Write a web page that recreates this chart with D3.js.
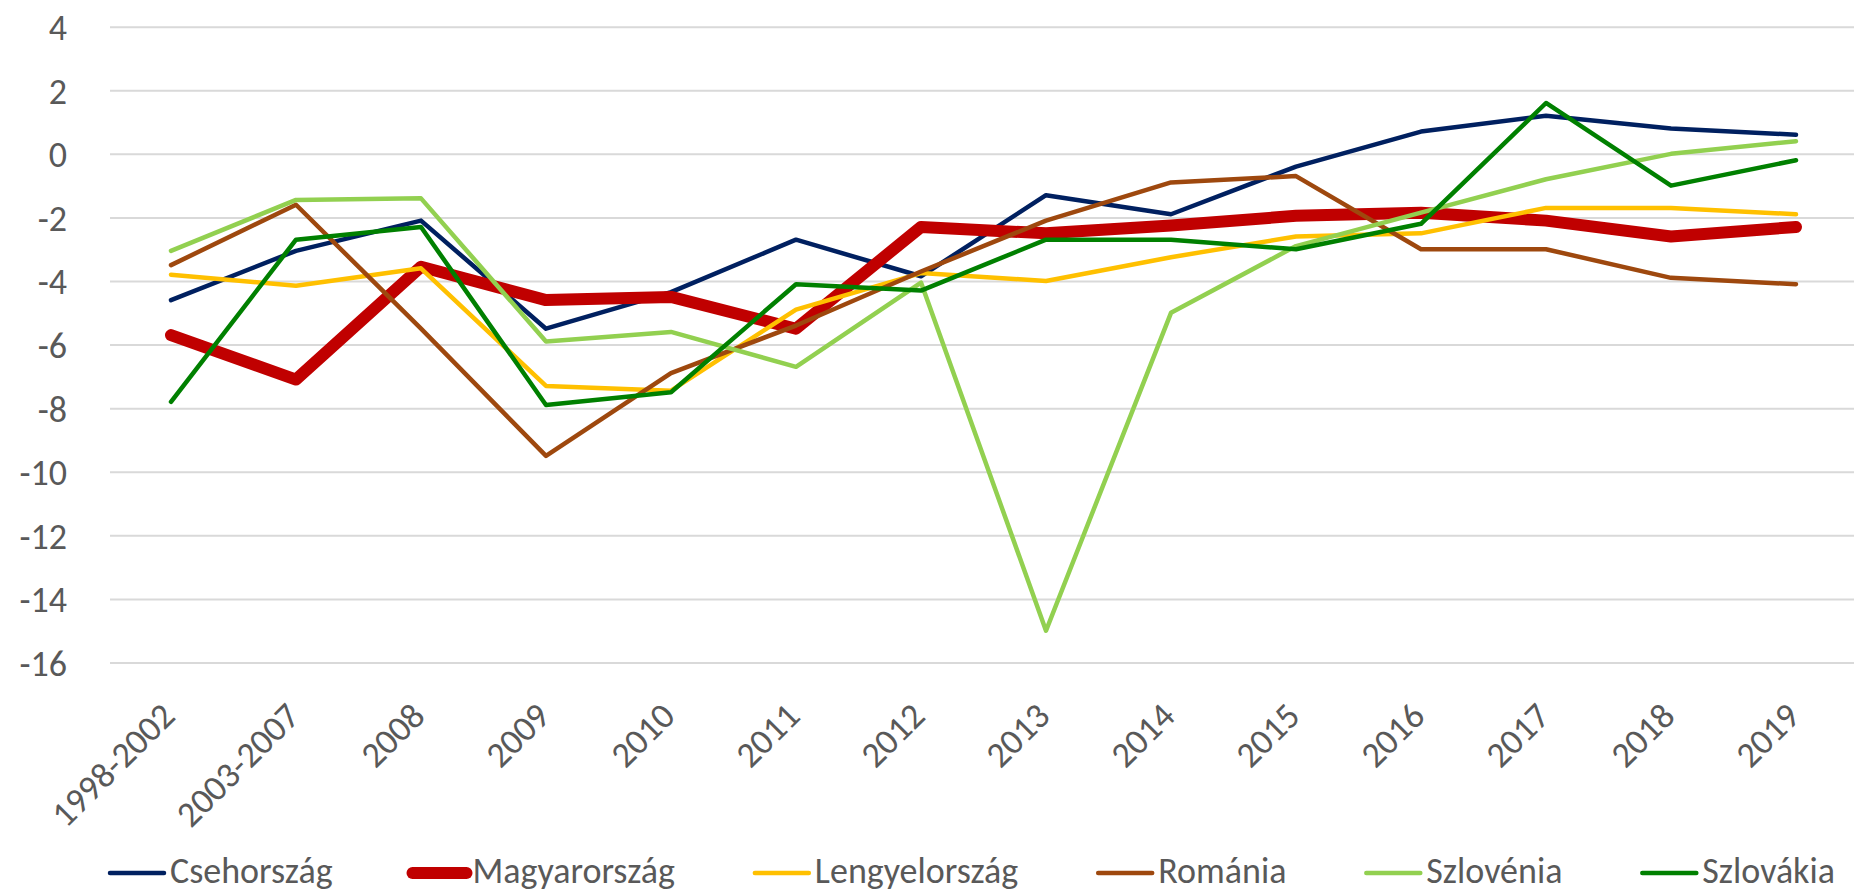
<!DOCTYPE html>
<html>
<head>
<meta charset="utf-8">
<script src="https://cdn.jsdelivr.net/npm/d3@7"></script>
<style>
  body { margin: 0; background: #fff; }
  text { font-family: Calibri, Carlito, Lato, sans-serif; fill: #595959; }
</style>
</head>
<body>
<script>
var categories = ['1998-2002', '2003-2007', '2008', '2009', '2010', '2011', '2012', '2013', '2014', '2015', '2016', '2017', '2018', '2019']
var yTicks = [4, 2, 0, -2, -4, -6, -8, -10, -12, -14, -16]

var names = ['Csehország', 'Magyarország', 'Lengyelország', 'Románia', 'Szlovénia', 'Szlovákia']
var colors = ['#002060', '#c00000', '#ffc000', '#9e480e', '#92d050', '#008000']

var cseh    = [-4.6, -3.05, -2.1, -5.5, -4.35, -2.7, -3.85, -1.3, -1.9, -0.4, 0.7, 1.2, 0.8, 0.6]
var magyar  = [-5.7, -7.1, -3.55, -4.6, -4.5, -5.5, -2.3, -2.5, -2.25, -1.95, -1.85, -2.1, -2.6, -2.3]
var lengyel = [-3.8, -4.15, -3.6, -7.3, -7.45, -4.9, -3.75, -4.0, -3.25, -2.6, -2.5, -1.7, -1.7, -1.9]
var romania = [-3.5, -1.6, -5.5, -9.5, -6.9, -5.4, -3.7, -2.1, -0.9, -0.7, -3.0, -3.0, -3.9, -4.1]
var szloven = [-3.05, -1.45, -1.4, -5.9, -5.6, -6.7, -4.05, -15, -5.0, -2.9, -1.85, -0.8, 0.0, 0.4]
var szlovak = [-7.8, -2.7, -2.3, -7.9, -7.5, -4.1, -4.3, -2.7, -2.7, -3.0, -2.2, 1.6, -1.0, -0.2]

var series = [cseh, magyar, lengyel, romania, szloven, szlovak].map(function(values, i){
  return {name: names[i], color: colors[i], width: i == 1 ? 12 : 4.5, values: values}
})

var width = 1854, height = 893

var svg = d3.select('body').append('svg')
    .attr('width', width)
    .attr('height', height)

var x = d3.scaleBand().domain(categories).range([108.5, 1858.5])
var y = d3.scaleLinear().domain([-16, 4]).range([662.5, 26.7])

// gridlines + y labels
var yAxis = d3.axisLeft(y).tickValues(yTicks).tickSize(-(1858 - 110)).tickPadding(43).tickFormat(d3.format('d'))
svg.append('g')
    .attr('transform', 'translate(110,0)')
    .call(yAxis)
    .call(function(g){
      g.select('.domain').remove()
      g.selectAll('.tick line').attr('stroke', '#d9d9d9').attr('stroke-width', 2)
      g.selectAll('.tick text').attr('font-size', 36).attr('fill', '#595959').attr('dy', '0.36em')
        .text(function(d){ return d < 0 ? '-' + Math.abs(d) : d })
    })

// x labels, rotated
svg.append('g').selectAll('text')
    .data(categories)
  .enter().append('text')
    .attr('transform', function(d){ return 'translate(' + (x(d) + x.bandwidth() / 2 + 6) + ',718) rotate(-45)' })
    .attr('text-anchor', 'end')
    .attr('font-size', 36)
    .text(function(d){ return d })

var line = d3.line()
    .x(function(d, i){ return x(categories[i]) + x.bandwidth() / 2 })
    .y(function(d){ return y(d) })

svg.append('g').selectAll('path')
    .data(series)
  .enter().append('path')
    .attr('d', function(d){ return line(d.values) })
    .style('fill', 'none')
    .style('stroke', function(d){ return d.color })
    .style('stroke-width', function(d){ return d.width })
    .style('stroke-linecap', 'round')
    .style('stroke-linejoin', 'round')

// legend, spread between 110 and 1835
var legend = svg.append('g').attr('transform', 'translate(110,873)')
var items = legend.selectAll('g').data(series).enter().append('g')
items.append('line')
    .attr('x1', 0).attr('x2', 54).attr('y1', 0).attr('y2', 0)
    .style('stroke', function(d){ return d.color })
    .style('stroke-width', function(d){ return d.width })
    .style('stroke-linecap', 'round')
items.append('text')
    .attr('x', 60)
    .attr('y', 10)
    .attr('font-size', 36)
    .text(function(d){ return d.name })

var widths = []
items.each(function(){ widths.push(60 + d3.select(this).select('text').node().getComputedTextLength()) })
var gap = (1725 - d3.sum(widths)) / (widths.length - 1)
var pos = 0
items.each(function(d, i){
  d3.select(this).attr('transform', 'translate(' + pos + ',0)')
  pos += widths[i] + gap
})
</script>
</body>
</html>
